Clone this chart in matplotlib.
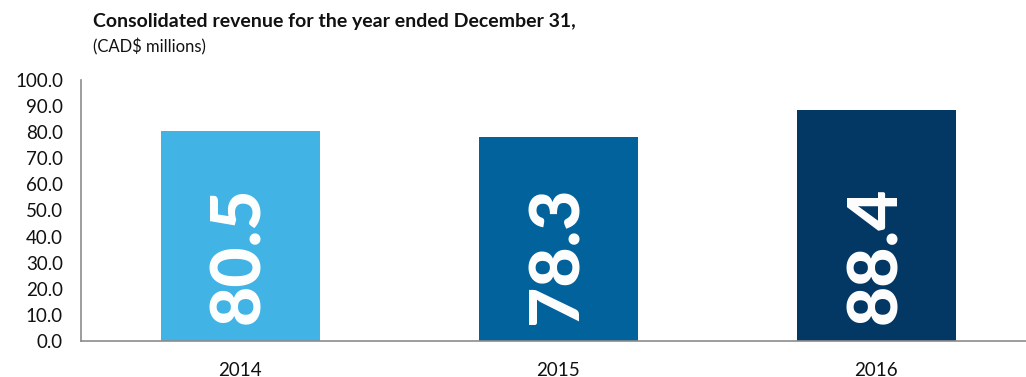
import matplotlib.pyplot as plt

years = ['2014', '2015', '2016']
revenue = [80.5, 78.3, 88.4]
bar_colors = ['#41B4E5', '#02629C', '#043864']
yticks = [0, 10, 20, 30, 40, 50, 60, 70, 80, 90, 100]

plt.rcParams['font.family'] = ['Lato', 'DejaVu Sans']

fig = plt.figure(figsize=(10.26, 3.77), dpi=100)
ax = fig.add_axes([0.079, 0.0955, 0.93, 0.6925])

x = range(len(years))
ax.bar(x, revenue, width=0.5, color=bar_colors)

for i, v in enumerate(revenue):
    ax.annotate(f'{v:.1f}', xy=(i, 0), xytext=(0, 12), textcoords='offset points',
                rotation=90, rotation_mode='anchor', ha='left', va='center',
                color='white', fontsize=50, fontweight='black')

ax.set_xlim(-0.5, 2.5)
ax.set_ylim(0, 100)
ax.set_yticks(yticks)
ax.set_yticklabels([f'{t:.1f}' for t in yticks], fontsize=13.5, color='#111111')
ax.set_xticks(list(x))
ax.set_xticklabels(years, fontsize=13.5, color='#111111')
ax.tick_params(axis='both', length=0)
ax.tick_params(axis='y', pad=13)
ax.tick_params(axis='x', pad=15)

for s in ['top', 'right']:
    ax.spines[s].set_visible(False)
for s in ['left', 'bottom']:
    ax.spines[s].set_color('#8c8c8c')
    ax.spines[s].set_linewidth(1.2)

fig.text(0.091, 0.942, 'Consolidated revenue for the year ended December 31,',
         fontsize=14, fontweight='bold', color='#111111', va='center')
fig.text(0.091, 0.875, '(CAD$ millions)', fontsize=12, color='#111111', va='center')

plt.savefig('out.png', dpi=100)
